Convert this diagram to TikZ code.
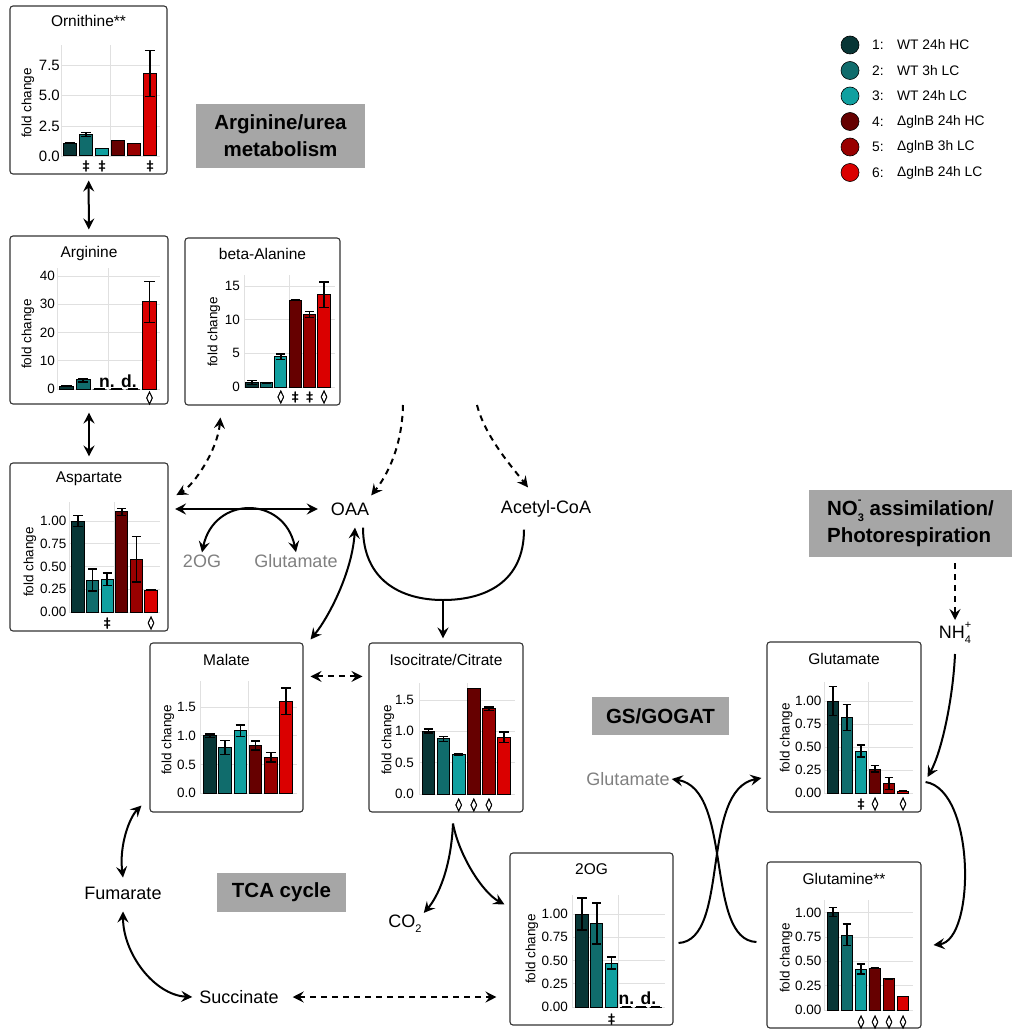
\documentclass[tikz,border=0pt]{standalone}
\usepackage{fontspec}
\setmainfont{Liberation Sans}
\newfontfamily\symfont[FakeBold=2]{DejaVu Sans}
\usepackage{tikz}
\usetikzlibrary{arrows.meta}
\usetikzlibrary{positioning}

\definecolor{c1}{RGB}{8,54,54}
\definecolor{c2}{RGB}{16,108,108}
\definecolor{c3}{RGB}{16,160,160}
\definecolor{c4}{RGB}{102,0,0}
\definecolor{c5}{RGB}{153,0,0}
\definecolor{c6}{RGB}{218,0,0}
\definecolor{boxgray}{RGB}{166,166,166}
\definecolor{txtgray}{RGB}{128,128,128}

\tikzset{
	>={Stealth[length=11pt,width=11pt,inset=4pt]},
	panel/.style={draw=black!80, line width=1.1pt, rounded corners=3pt, inner sep=0pt},
	title/.style={font=\fontsize{15.5}{18}\selectfont, inner sep=1pt},
	ylab/.style={font=\fontsize{13.5}{16}\selectfont, rotate=90, inner sep=1pt},
	tick/.style={font=\fontsize{13.5}{15}\selectfont, anchor=east, inner sep=0pt},
	gridline/.style={draw=black!12, line width=0.6pt},
	bar/.style={draw=black, line width=1pt},
	err/.style={draw=black, line width=1.5pt},
	sigmark/.style={font=\symfont\fontsize{13}{14}\selectfont, inner sep=0pt},
	nd/.style={font=\bfseries\fontsize{17.5}{20}\selectfont, inner sep=0pt},
	lab/.style={font=\fontsize{18}{21}\selectfont, inner sep=2pt},
	glab/.style={lab, text=txtgray},
	hdr/.style={fill=boxgray, font=\bfseries\fontsize{20.5}{27}\selectfont, align=center},
	dot/.style={circle, draw=black, line width=0.6pt, minimum size=18pt, inner sep=0pt},
	legtxt/.style={font=\fontsize{13.8}{16}\selectfont, anchor=west, inner sep=0pt},
	flow/.style={draw=black, line width=2pt},
	dflow/.style={flow, dash pattern=on 6pt off 5pt}
}

% stacked superscript and subscript
\newcommand{\supsub}[2]{\rlap{\raisebox{1.05ex}{\fontsize{11}{11}\selectfont#1}}\raisebox{-0.55ex}{\fontsize{11}{11}\selectfont#2}}
% #1 first bar x, #2 bar step, #3 zero y, #4 px per unit, #5 i/value/low/high
\newcommand{\drawbars}[5]{%
	\foreach \i/\vl/\elo/\ehi in {#5}{%
		\pgfmathsetmacro{\bx}{#1+(\i-1)*#2}%
		\pgfmathsetmacro{\bw}{0.42*#2}%
		\draw[bar, fill=c\i] (\bx-\bw,#3) rectangle (\bx+\bw,#3-\vl*#4);
		\draw[err] (\bx,#3-\elo*#4) -- (\bx,#3-\ehi*#4);
		\draw[err] (\bx-0.75*\bw,#3-\elo*#4) -- (\bx+0.75*\bw,#3-\elo*#4);
		\draw[err] (\bx-0.75*\bw,#3-\ehi*#4) -- (\bx+0.75*\bw,#3-\ehi*#4);
	}}
% #1 left, #2 right, #3 zero y, #4 px per unit, #5 top, #6 tick values
\newcommand{\drawgrid}[6]{%
	\foreach \tv in {#6}{\draw[gridline] (#1,#3-\tv*#4) -- (#2,#3-\tv*#4);}
	\draw[gridline] (#1,#3) -- (#1,#5);
	\draw[gridline] ({(#1+#2)/2},#3) -- ({(#1+#2)/2},#5);}
% #1 name, #2 label x, #3 zero y, #4 px per unit, #5 value/label
\newcommand{\drawticks}[5]{%
	\foreach \tv/\tlab [count=\kk] in {#5}{\node[tick] (#1t\kk) at (#2,#3-\tv*#4) {\tlab};}}
% #1 name, #2 first bar x, #3 bar step, #4 y, #5 i/symbol
\newcommand{\drawmarks}[5]{%
	\foreach \i/\mk in {#5}{%
		\pgfmathsetmacro{\bx}{#2+(\i-1)*#3}%
		\node[sigmark] (#1m\i) at (\bx,#4) {\mk};}}

\begin{document}
\begin{tikzpicture}[x=1pt, y=-1pt]
	\fill[white] (0,0) rectangle (1024,1035);
	\useasboundingbox (0,0) rectangle (1024,1035);

	% panels
	\node[panel, minimum width=157pt, minimum height=168pt] (orn) at (88.5,90) {};
	\node[panel, minimum width=158pt, minimum height=168pt] (arg) at (89,320) {};
	\node[panel, minimum width=155pt, minimum height=167pt] (bala) at (262.5,321.5) {};
	\node[panel, minimum width=158pt, minimum height=168pt] (asp) at (89,547) {};
	\node[panel, minimum width=153pt, minimum height=169pt] (mal) at (226.5,727.5) {};
	\node[panel, minimum width=154pt, minimum height=169pt] (iso) at (446,727.5) {};
	\node[panel, minimum width=163pt, minimum height=172pt] (tog) at (591.5,939) {};
	\node[panel, minimum width=154pt, minimum height=170pt] (glu) at (844,727) {};
	\node[panel, minimum width=154pt, minimum height=166pt] (gln) at (844,945) {};

	% Ornithine
	\node[title] (orn-t) at (88.5,21) {Ornithine**};
	\node[ylab] (orn-y) at (28,103) {fold change};
	\drawgrid{61}{160}{156}{12.04}{45}{0,2.5,5,7.5}
	\begin{scope}[tick/.append style={font=\fontsize{15}{17}\selectfont}]
		\drawticks{orn}{60}{156}{12.04}{0/0.0,2.5/2.5,5/5.0,7.5/7.5}
	\end{scope}
	\drawbars{70}{16}{156}{12.04}{1/1.06/1.06/1.06,2/1.75/1.63/1.95,3/0.64/0.64/0.64,4/1.27/1.27/1.27,5/1.02/1.02/1.02,6/6.83/4.95/8.75}
	\drawmarks{orn}{70}{16}{166}{2/‡,3/‡,6/‡}

	% Arginine
	\node[title] (arg-t) at (89,253) {Arginine};
	\node[ylab] (arg-y) at (28,334) {fold change};
	\drawgrid{57}{160}{389}{2.825}{268}{0,10,20,30,40}
	\drawticks{arg}{55}{389}{2.825}{0/0,10/10,20/20,30/30,40/40}
	\drawbars{66.5}{16.6}{389}{2.825}{1/1.0/0.9/1.1,2/3.2/2.5/3.5,3/0/0/0,4/0/0/0,5/0/0/0,6/31/23.5/38}
	\node[nd] (arg-nd) at (118,381) {n. d.};
	\drawmarks{arg}{66.5}{16.6}{398}{6/◊}

	% beta-Alanine
	\node[title] (bala-t) at (262.5,254) {beta-Alanine};
	\node[ylab] (bala-y) at (214,332) {fold change};
	\drawgrid{244}{335}{387}{6.73}{275}{0,5,10,15}
	\drawticks{bala}{240}{387}{6.73}{0/0,5/5,10/10,15/15}
	\drawbars{252}{14.4}{387}{6.73}{1/0.7/0.4/1.0,2/0.6/0.5/0.7,3/4.5/4.1/4.9,4/12.9/12.9/12.9,5/10.7/10.3/11.2,6/13.8/11.8/15.6}
	\drawmarks{bala}{252}{14.4}{397}{3/◊,4/‡,5/‡,6/◊}

	% Aspartate
	\node[title] (asp-t) at (89,479) {Aspartate};
	\node[ylab] (asp-y) at (30,562) {fold change};
	\drawgrid{69}{160}{612}{91}{502}{0,0.25,0.5,0.75,1}
	\drawticks{asp}{66.5}{612}{91}{0/0.00,0.25/0.25,0.5/0.50,0.75/0.75,1/1.00}
	\drawbars{78}{14.6}{612}{91}{1/1.0/0.94/1.06,2/0.35/0.23/0.47,3/0.36/0.29/0.43,4/1.1/1.06/1.14,5/0.58/0.33/0.83,6/0.24/0.24/0.24}
	\drawmarks{asp}{78}{14.6}{623}{3/‡,6/◊}

	% Malate
	\node[title] (mal-t) at (226.5,660) {Malate};
	\node[ylab] (mal-y) at (168,740) {fold change};
	\drawgrid{200}{297}{793}{57.3}{681}{0,0.5,1,1.5}
	\drawticks{mal}{196}{793}{57.3}{0/0.0,0.5/0.5,1/1.0,1.5/1.5}
	\drawbars{210}{15.2}{793}{57.3}{1/1.0/0.97/1.03,2/0.79/0.67/0.92,3/1.09/0.99/1.19,4/0.83/0.75/0.91,5/0.62/0.54/0.71,6/1.6/1.37/1.83}

	% Isocitrate/Citrate
	\node[title] (iso-t) at (446,660) {Isocitrate/Citrate};
	\node[ylab] (iso-y) at (388,740) {fold change};
	\drawgrid{419}{515}{794}{62.7}{683}{0,0.5,1,1.5}
	\drawticks{iso}{414}{794}{62.7}{0/0.0,0.5/0.5,1/1.0,1.5/1.5}
	\drawbars{428.5}{15.1}{794}{62.7}{1/1.0/0.97/1.04,2/0.88/0.84/0.92,3/0.63/0.62/0.65,4/1.68/1.68/1.68,5/1.36/1.33/1.39,6/0.9/0.82/0.99}
	\drawmarks{iso}{428.5}{15.1}{805}{3/◊,4/◊,5/◊}

	% 2OG
	\node[title] (tog-t) at (591.5,869) {2OG};
	\node[ylab] (tog-y) at (532,949) {fold change};
	\drawgrid{572}{665}{1007}{93}{895}{0,0.25,0.5,0.75,1}
	\drawticks{tog}{568}{1007}{93}{0/0.00,0.25/0.25,0.5/0.50,0.75/0.75,1/1.00}
	\drawbars{582}{14.75}{1007}{93}{1/1.0/0.83/1.17,2/0.9/0.68/1.12,3/0.47/0.41/0.54,4/0/0/0,5/0/0/0,6/0/0/0}
	\node[nd] (tog-nd) at (637.5,998) {n. d.};
	\drawmarks{tog}{582}{14.75}{1019}{3/‡}

	% Glutamate
	\node[title] (glu-t) at (844,659) {Glutamate};
	\node[ylab] (glu-y) at (786,738) {fold change};
	\drawgrid{824}{913}{793}{92}{682}{0,0.25,0.5,0.75,1}
	\drawticks{glu}{821.5}{793}{92}{0/0.00,0.25/0.25,0.5/0.50,0.75/0.75,1/1.00}
	\drawbars{833}{14}{793}{92}{1/1.0/0.84/1.16,2/0.82/0.68/0.96,3/0.45/0.39/0.52,4/0.26/0.23/0.30,5/0.1/0.04/0.17,6/0.02/0.02/0.02}
	\drawmarks{glu}{833}{14}{804}{3/‡,4/◊,6/◊}

	% Glutamine
	\node[title] (gln-t) at (844,879) {Glutamine**};
	\node[ylab] (gln-y) at (786,958) {fold change};
	\drawgrid{824}{913}{1010}{97.5}{900}{0,0.25,0.5,0.75,1}
	\drawticks{gln}{821.5}{1010}{97.5}{0/0.00,0.25/0.25,0.5/0.50,0.75/0.75,1/1.00}
	\drawbars{833}{14}{1010}{97.5}{1/1.0/0.96/1.05,2/0.76/0.66/0.88,3/0.42/0.37/0.47,4/0.43/0.43/0.43,5/0.32/0.32/0.32,6/0.14/0.14/0.14}
	\drawmarks{gln}{833}{14}{1022}{3/◊,4/◊,5/◊,6/◊}

	% legend
	\foreach \i/\txt in {1/WT 24h HC,2/WT 3h LC,3/WT 24h LC,4/ΔglnB 24h HC,5/ΔglnB 3h LC,6/ΔglnB 24h LC}{
		\node[dot, fill=c\i] (leg\i) at (850,{45+25.5*(\i-1)}) {};
		\node[legtxt] (legn\i) at (872,{45+25.5*(\i-1)}) {\i:};
		\node[legtxt] (legt\i) at (897,{45+25.5*(\i-1)}) {\txt};
	}

	% headers
	\node[hdr, minimum width=169pt, minimum height=64pt] (argbox) at (280.5,136) {Arginine/urea\\metabolism};
	\node[hdr, minimum width=203pt, minimum height=67pt, align=left] (no3) at (910.5,523.5) {NO\supsub{-}{3} assimilation/\\Photorespiration};
	\node[hdr, minimum width=137pt, minimum height=38pt] (gs) at (660.5,716) {GS/GOGAT};
	\node[hdr, minimum width=129pt, minimum height=39pt] (tca) at (281.5,892.5) {TCA cycle};

	% metabolites
	\node[lab] (oaa) at (350,509) {OAA};
	\node[lab] (aca) at (546,509) {Acetyl-CoA};
	\node[glab] (og1) at (202,561) {2OG};
	\node[glab] (glu1) at (296,561) {Glutamate};
	\node[lab] (fum) at (123,893) {Fumarate};
	\node[lab] (succ) at (239,997) {Succinate};
	\node[lab] (co2) at (405,924) {CO\raisebox{-0.55ex}{\fontsize{11}{11}\selectfont 2}};
	\node[glab] (glu2) at (628,779) {Glutamate};
	\node[lab] (nh4) at (955,633) {NH\supsub{+}{4}};
	\coordinate (oaatop) at (403,405);
	\coordinate (acatop) at (477,405);
	\coordinate (cs) at (443,600);

	% arginine / aspartate side
	\draw[flow, <->, shorten <=6pt, shorten >=6pt] (orn) -- (arg);
	\draw[flow, <->, shorten <=8pt, shorten >=6pt] (arg) -- (asp);
	\draw[flow, <->] ([xshift=6.5pt]asp.east |- oaa.west) -- ([xshift=-11pt]oaa.west);
	\draw[flow, <->] (og1.north) .. controls +(12,-57) and +(-12,-57) .. (glu1.north);
	\draw[dflow, <->, shorten <=12pt, shorten >=9pt] ([xshift=37pt]bala.south west) .. controls +(-4,45) and +(25,-14) .. ([yshift=-37pt]asp.north east);

	% TCA cycle
	\draw[dflow, ->] (oaatop) .. controls +(-1,42) and +(16,-20) .. ([yshift=5pt]oaa.north east);
	\draw[dflow, ->] (acatop) .. controls +(8,32) and +(-14,-18) .. ([xshift=-18pt,yshift=11pt]aca.north);
	\draw[flow] ([xshift=13pt,yshift=-10pt]oaa.south) .. controls +(0,52) and +(-43,0) .. (cs) .. controls +(43,0) and +(0,52) .. ([xshift=-22pt,yshift=-10pt]aca.south);
	\draw[flow, ->, shorten >=4pt] (cs) -- (cs |- iso.north);
	\draw[flow, <->] ([xshift=5pt,yshift=-10pt]oaa.south) .. controls +(-3,45) and +(18,-22) .. ([xshift=7pt,yshift=3pt]mal.north east);
	\draw[dflow, <->, shorten <=7pt, shorten >=6pt] ([yshift=-34pt]mal.north east) -- ([yshift=-34pt]iso.north west);
	\draw[flow, <->] ([yshift=7pt]fum.north) .. controls +(-4,-32) and +(-12,12) .. ([xshift=-8pt,yshift=7pt]mal.south west);
	\draw[flow, <->] ([yshift=-10pt]fum.south) .. controls +(0,42) and +(-38,-2) .. ([xshift=-5pt]succ.west);
	\draw[dflow, <->, shorten <=12pt, shorten >=13pt] (succ.east) -- (tog.west |- succ.east);
	\draw[flow, ->] ([xshift=7pt,yshift=-11pt]iso.south) .. controls +(-2,45) and +(14,-16) .. (co2.north east);
	\draw[flow, ->] ([xshift=7pt,yshift=-11pt]iso.south) .. controls +(6,32) and +(-22,-12) .. ([xshift=-5pt,yshift=-52pt]tog.north west);

	% GS/GOGAT
	\draw[flow, ->] ([xshift=5pt,yshift=-4pt]tog.east) .. controls +(52,-3) and +(-62,12) .. ([xshift=-5pt,yshift=-51pt]glu.west);
	\draw[flow, ->] ([xshift=-10pt,yshift=3pt]gln.west) .. controls +(-52,-2) and +(62,10) .. (glu2.east);
	\draw[dflow, ->, shorten <=6pt] (nh4 |- no3.south) -- (nh4.north);
	\draw[flow, ->] ([yshift=-8pt]nh4.south) .. controls +(-2,45) and +(14,-25) .. ([xshift=6pt,yshift=-50pt]glu.east);
	\draw[flow, ->] ([xshift=4pt,yshift=-55pt]glu.east) .. controls +(50,8) and +(42,-5) .. ([xshift=12pt]gln.east);
\end{tikzpicture}
\end{document}
